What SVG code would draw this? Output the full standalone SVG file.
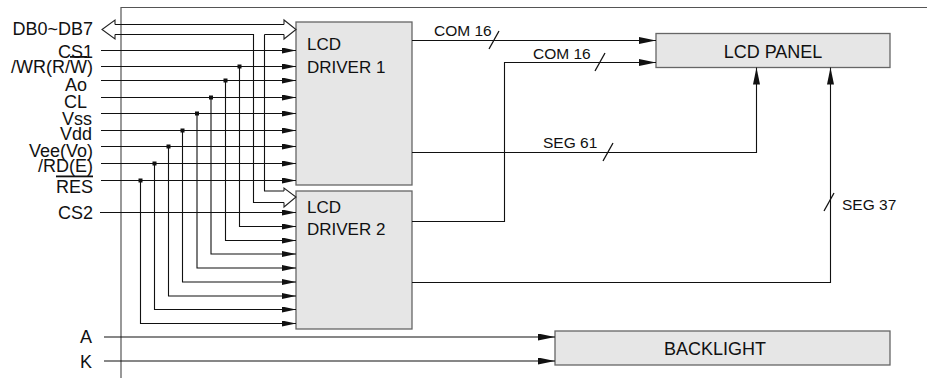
<svg xmlns="http://www.w3.org/2000/svg" width="927" height="378" viewBox="0 0 927 378">
<style>
  .box{fill:#e6e6e6;stroke:#666;stroke-width:1.3}
  .t{font-family:"Liberation Sans",Arial,sans-serif;fill:#111}
  .pin{font-size:18px;text-anchor:end}
  .big{font-size:18px;text-anchor:middle}
  .drv{font-size:17px}
  .sm{font-size:15.5px}
  .w{fill:none;stroke:#111;stroke-width:1.1}
  .a{fill:none;stroke:#111;stroke-width:1.1;marker-end:url(#ah)}
  .b{fill:none;stroke:#111;stroke-width:1.1;marker-end:url(#ah2)}
  .bus{fill:#fff;stroke:#222;stroke-width:1.1}
  .frame{fill:none;stroke:#555;stroke-width:1.2}
  .tick{stroke:#111;stroke-width:1.3}
</style>
<defs>
  <marker id="ah" markerUnits="userSpaceOnUse" viewBox="0 0 14 6" refX="14" refY="3" markerWidth="14" markerHeight="6" orient="auto">
    <path d="M0,0 L14,3 L0,6 Z" fill="#111"/>
  </marker>
  <marker id="ah2" markerUnits="userSpaceOnUse" viewBox="0 0 17 7" refX="17" refY="3.5" markerWidth="17" markerHeight="7" orient="auto">
    <path d="M0,0 L17,3.5 L0,7 Z" fill="#111"/>
  </marker>
</defs>

<path class="frame" d="M121,378 V7.5 H927"/>

<g id="pins" class="t pin">
  <text x="93" y="35">DB0~DB7</text>
  <text x="93" y="57.5">CS1</text>
  <text x="93" y="73">/WR(R/<tspan style="text-decoration:overline">W</tspan>)</text>
  <text x="87" y="91">Ao</text>
  <text x="87" y="108">CL</text>
  <text x="92" y="125">Vss</text>
  <text x="92" y="140">Vdd</text>
  <text x="93" y="156.5">Vee(Vo)</text>
  <text x="93" y="172">/RD(E)</text>
  <text x="93" y="192.5" style="text-decoration:overline">RES</text>
  <text x="93" y="219">CS2</text>
  <text x="92" y="343">A</text>
  <text x="92" y="368">K</text>
</g>

<g id="driver1">
  <rect class="box" x="296" y="22" width="116" height="163"/>
  <text class="t drv" x="307" y="50">LCD</text>
  <text class="t drv" x="307" y="72.5">DRIVER 1</text>
</g>
<g id="driver2">
  <rect class="box" x="296" y="191" width="116" height="138"/>
  <text class="t drv" x="307" y="213">LCD</text>
  <text class="t drv" x="307" y="235">DRIVER 2</text>
</g>
<g id="lcd-panel">
  <rect class="box" x="656" y="33.5" width="234" height="34"/>
  <text class="t big" x="773" y="58">LCD PANEL</text>
</g>
<g id="backlight">
  <rect class="box" x="555" y="331" width="335" height="34"/>
  <text class="t big" x="715" y="355">BACKLIGHT</text>
</g>

<g id="connectors">
  <!-- data bus -->
  <path class="w" d="M115,24.5 H284 M115,34.5 H253.5 V202.5 H284 M264.5,34.5 V191 H284 M264.5,34.5 H284"/>
  <path class="bus" d="M115,24.5 V20 L102,29.5 L115,39 V34.5"/>
  <path class="bus" d="M284,24.5 V20 L296,29.5 L284,39 V34.5"/>
  <path class="bus" d="M284,191 V188 L296,197 L284,207 V202.5"/>

  <!-- driver 1 inputs -->
  <path class="a" d="M101,50.5 H296"/>
  <path class="a" d="M101,66.5 H296"/>
  <path class="a" d="M101,80.5 H296"/>
  <path class="a" d="M101,97.5 H296"/>
  <path class="a" d="M101,113.5 H296"/>
  <path class="a" d="M101,130.5 H296"/>
  <path class="a" d="M101,146.5 H296"/>
  <path class="a" d="M101,163.5 H296"/>
  <path class="a" d="M101,180.5 H296"/>

  <!-- driver 2 inputs -->
  <path class="a" d="M100,212.5 H296"/>
  <path class="a" d="M239.5,66.5 V226.5 H296"/>
  <path class="a" d="M225.5,80.5 V240.5 H296"/>
  <path class="a" d="M211,97.5 V254 H296"/>
  <path class="a" d="M197,113.5 V268 H296"/>
  <path class="a" d="M182.5,130.5 V282 H296"/>
  <path class="a" d="M168.5,146.5 V296 H296"/>
  <path class="a" d="M154.5,163.5 V309.5 H296"/>
  <path class="a" d="M140.5,180.5 V323.5 H296"/>

  <g fill="#111">
    <rect x="237.5" y="64.5" width="4" height="4"/>
    <rect x="223.5" y="78.5" width="4" height="4"/>
    <rect x="209" y="95.5" width="4" height="4"/>
    <rect x="195" y="111.5" width="4" height="4"/>
    <rect x="180.5" y="128.5" width="4" height="4"/>
    <rect x="166.5" y="144.5" width="4" height="4"/>
    <rect x="152.5" y="161.5" width="4" height="4"/>
    <rect x="138.5" y="178.5" width="4" height="4"/>
  </g>

  <!-- outputs to panel -->
  <path class="b" d="M412,40.5 H656"/>
  <path class="b" d="M412,221.5 H504.5 V62.5 H656"/>
  <path class="b" d="M412,152.5 H756.5 V67.5"/>
  <path class="b" d="M412,282.5 H830.5 V67.5"/>

  <!-- backlight -->
  <path class="b" d="M104,337 H555"/>
  <path class="b" d="M104,361 H555"/>

  <line class="tick" x1="499" y1="31" x2="489" y2="49"/>
  <line class="tick" x1="605" y1="53" x2="595" y2="71"/>
  <line class="tick" x1="613" y1="143" x2="603" y2="161"/>
  <line class="tick" x1="834" y1="193" x2="824" y2="211"/>

  <text class="t sm" x="434" y="36">COM 16</text>
  <text class="t sm" x="533" y="59">COM 16</text>
  <text class="t sm" x="543" y="147.5">SEG 61</text>
  <text class="t sm" x="842" y="210">SEG 37</text>
</g>
</svg>
